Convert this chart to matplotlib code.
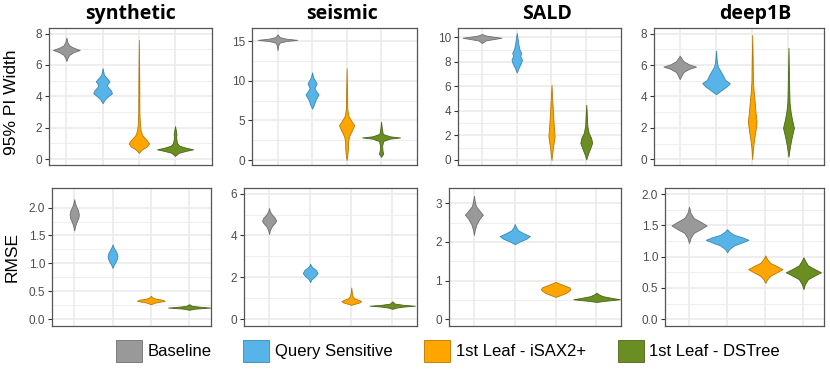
import matplotlib
matplotlib.use("Agg")
import matplotlib.pyplot as plt
from matplotlib.patches import Patch

plt.rcParams['font.family'] = ['Liberation Sans', 'DejaVu Sans']

datasets = ["synthetic", "seismic", "SALD", "deep1B"]
methods = ["Baseline", "Query Sensitive", "1st Leaf - iSAX2+", "1st Leaf - DSTree"]
fill_colors = ['#999999', '#56B4E9', '#FFA500', '#6B8E23']
edge_colors = ['#6e6e6e', '#3a86b3', '#b77700', '#4a6517']

# violin outlines: (y levels, half width in category units)
pi_synthetic = [
    ([6.26, 6.45, 6.65, 6.82, 6.96, 7.1, 7.25, 7.45, 7.75], [0, 0.03, 0.08, 0.2, 0.37, 0.2, 0.08, 0.03, 0]),
    ([3.56, 3.8, 4.0, 4.2, 4.4, 4.6, 4.75, 4.95, 5.15, 5.35, 5.55, 5.79],
     [0, 0.06, 0.15, 0.26, 0.22, 0.14, 0.12, 0.19, 0.12, 0.04, 0.02, 0]),
    ([0.4, 0.6, 0.8, 1.0, 1.2, 1.5, 1.8, 2.2, 3.0, 5.0, 7.6],
     [0, 0.08, 0.22, 0.28, 0.22, 0.1, 0.05, 0.03, 0.015, 0.012, 0]),
    ([0.2, 0.4, 0.52, 0.62, 0.72, 0.85, 1.0, 1.2, 1.45, 1.6, 2.1],
     [0, 0.1, 0.3, 0.5, 0.3, 0.12, 0.06, 0.04, 0.03, 0.04, 0]),
]
pi_seismic = [
    ([13.9, 14.5, 14.85, 15.05, 15.2, 15.35, 15.55, 15.9], [0, 0.02, 0.06, 0.25, 0.57, 0.25, 0.06, 0]),
    ([6.5, 7.0, 7.6, 8.0, 8.3, 8.7, 9.1, 9.4, 9.7, 10.1, 10.5, 11.1],
     [0, 0.05, 0.1, 0.15, 0.19, 0.12, 0.07, 0.1, 0.13, 0.08, 0.03, 0]),
    ([0, 0.5, 1.5, 2.2, 3.0, 3.7, 4.4, 5.0, 5.6, 6.5, 8.0, 11.6],
     [0, 0.02, 0.04, 0.04, 0.07, 0.15, 0.22, 0.13, 0.05, 0.02, 0.015, 0]),
    ([0.4, 0.8, 1.2, 1.8, 2.4, 2.7, 2.85, 3.0, 3.3, 4.0, 4.85],
     [0, 0.06, 0.04, 0.03, 0.06, 0.25, 0.55, 0.25, 0.05, 0.02, 0]),
]
pi_sald = [
    ([9.54, 9.75, 9.9, 9.97, 10.05, 10.15, 10.28], [0, 0.1, 0.4, 0.56, 0.35, 0.12, 0]),
    ([7.14, 7.5, 7.9, 8.2, 8.5, 8.75, 9.0, 9.4, 9.8, 10.36],
     [0, 0.05, 0.12, 0.15, 0.1, 0.13, 0.08, 0.05, 0.03, 0]),
    ([0, 0.5, 1.2, 1.9, 2.6, 3.5, 4.5, 5.3, 6.13], [0, 0.02, 0.05, 0.09, 0.07, 0.05, 0.03, 0.015, 0]),
    ([0.05, 0.5, 1.0, 1.4, 1.8, 2.2, 2.8, 3.5, 4.5], [0, 0.05, 0.12, 0.17, 0.14, 0.07, 0.03, 0.02, 0]),
]
pi_deep1b = [
    ([5.1, 5.3, 5.55, 5.75, 5.9, 6.05, 6.25, 6.45, 6.6], [0, 0.04, 0.1, 0.25, 0.45, 0.25, 0.1, 0.04, 0]),
    ([4.14, 4.4, 4.65, 4.85, 5.05, 5.3, 5.6, 5.9, 6.3, 6.92],
     [0, 0.15, 0.3, 0.38, 0.25, 0.2, 0.13, 0.05, 0.02, 0]),
    ([0, 0.7, 1.4, 2.0, 2.4, 3.0, 3.6, 4.3, 5.0, 6.0, 7.92],
     [0, 0.02, 0.06, 0.1, 0.12, 0.09, 0.07, 0.04, 0.02, 0.015, 0]),
    ([0.16, 0.8, 1.4, 2.0, 2.5, 3.0, 3.6, 4.5, 5.5, 7.1],
     [0, 0.04, 0.09, 0.15, 0.1, 0.06, 0.03, 0.02, 0.012, 0]),
]

rmse_synthetic = [
    ([1.59, 1.66, 1.74, 1.82, 1.88, 1.95, 2.02, 2.08, 2.15], [0, 0.02, 0.06, 0.11, 0.12, 0.1, 0.05, 0.02, 0]),
    ([0.92, 0.97, 1.03, 1.09, 1.14, 1.2, 1.26, 1.3, 1.34], [0, 0.03, 0.08, 0.12, 0.13, 0.1, 0.05, 0.02, 0]),
    ([0.27, 0.3, 0.32, 0.33, 0.35, 0.37, 0.39, 0.42], [0, 0.12, 0.28, 0.36, 0.3, 0.12, 0.04, 0]),
    ([0.17, 0.19, 0.2, 0.21, 0.22, 0.24, 0.27], [0, 0.15, 0.35, 0.55, 0.35, 0.08, 0]),
]
rmse_seismic = [
    ([4.07, 4.25, 4.45, 4.6, 4.7, 4.85, 5.0, 5.15, 5.31], [0, 0.02, 0.07, 0.14, 0.17, 0.14, 0.07, 0.02, 0]),
    ([1.77, 1.9, 2.05, 2.2, 2.35, 2.45, 2.55, 2.65], [0, 0.03, 0.12, 0.18, 0.14, 0.07, 0.02, 0]),
    ([0.68, 0.73, 0.8, 0.86, 0.92, 1.0, 1.1, 1.25, 1.51], [0, 0.08, 0.2, 0.24, 0.18, 0.07, 0.03, 0.015, 0]),
    ([0.49, 0.55, 0.6, 0.64, 0.68, 0.74, 0.85], [0, 0.1, 0.28, 0.55, 0.28, 0.06, 0]),
]
rmse_sald = [
    ([2.18, 2.3, 2.45, 2.6, 2.7, 2.8, 2.92, 3.05, 3.19], [0, 0.02, 0.06, 0.14, 0.22, 0.14, 0.05, 0.02, 0]),
    ([1.94, 2.0, 2.08, 2.15, 2.22, 2.3, 2.38, 2.46], [0, 0.1, 0.28, 0.37, 0.22, 0.08, 0.03, 0]),
    ([0.58, 0.62, 0.68, 0.74, 0.78, 0.83, 0.88, 0.93, 0.97], [0, 0.1, 0.25, 0.33, 0.36, 0.33, 0.2, 0.08, 0]),
    ([0.45, 0.48, 0.5, 0.52, 0.55, 0.6, 0.65, 0.69], [0, 0.2, 0.4, 0.57, 0.4, 0.15, 0.05, 0]),
]
rmse_deep1b = [
    ([1.22, 1.3, 1.38, 1.44, 1.5, 1.56, 1.62, 1.7, 1.8], [0, 0.04, 0.12, 0.3, 0.46, 0.3, 0.12, 0.04, 0]),
    ([1.07, 1.12, 1.18, 1.23, 1.27, 1.31, 1.35, 1.4, 1.44], [0, 0.05, 0.18, 0.4, 0.56, 0.4, 0.18, 0.06, 0]),
    ([0.58, 0.63, 0.69, 0.75, 0.8, 0.85, 0.9, 0.96, 1.02], [0, 0.04, 0.12, 0.3, 0.45, 0.3, 0.13, 0.05, 0]),
    ([0.48, 0.56, 0.64, 0.7, 0.75, 0.8, 0.86, 0.93, 0.99], [0, 0.04, 0.12, 0.3, 0.46, 0.3, 0.12, 0.05, 0]),
]

pi_ticks = [[0, 2, 4, 6, 8], [0, 5, 10, 15], [0, 2, 4, 6, 8, 10], [0, 2, 4, 6, 8]]
rmse_ticks = [[0, 0.5, 1.0, 1.5, 2.0], [0, 2, 4, 6], [0, 1, 2, 3], [0, 0.5, 1.0, 1.5, 2.0]]
rmse_labels = [["0.0", "0.5", "1.0", "1.5", "2.0"], ["0", "2", "4", "6"],
               ["0", "1", "2", "3"], ["0.0", "0.5", "1.0", "1.5", "2.0"]]

W, H = 830, 371
fig = plt.figure(figsize=(W / 100, H / 100), dpi=100)

# panel boxes in pixels: (left, right), rows share top/bottom
row_px = [(28, 165), (188, 326)]
cols_px = [[(49, 212), (252, 417), (458, 621), (654, 824)],
           [(52, 211), (244, 417), (449, 621), (665, 824)]]
xlims = [[(0.52, 5.02), (0.26, 5.04), (0.31, 5.0), (0.29, 4.98)],
         [(0.42, 4.57), (0.39, 4.6), (0.39, 4.6), (0.37, 4.54)]]
ylims = [[(-0.38, 8.36), (-0.63, 16.7), (-0.41, 10.77), (-0.37, 8.36)],
         [(-0.12, 2.35), (-0.33, 6.27), (-0.17, 3.39), (-0.11, 2.1)]]

rows = [([pi_synthetic, pi_seismic, pi_sald, pi_deep1b], pi_ticks, None),
        ([rmse_synthetic, rmse_seismic, rmse_sald, rmse_deep1b], rmse_ticks, rmse_labels)]

for r, (panels, ticks, labels) in enumerate(rows):
    top, bot = row_px[r]
    for c, violins in enumerate(panels):
        l, rr = cols_px[r][c]
        ax = fig.add_axes([l / W, 1 - bot / H, (rr - l) / W, (bot - top) / H])
        ax.set_facecolor('white')
        for i, (ys, ws) in enumerate(violins):
            x = i + 1
            ax.fill_betweenx(ys, [x - w for w in ws], [x + w for w in ws],
                             facecolor=fill_colors[i], edgecolor=edge_colors[i],
                             linewidth=0.6, zorder=3)
        ax.set_xlim(*xlims[r][c])
        ax.set_ylim(*ylims[r][c])
        ax.set_xticks([1, 2, 3, 4])
        ax.set_xticklabels([])
        t = ticks[c]
        ax.set_yticks(t)
        if labels is not None:
            ax.set_yticklabels(labels[c])
        ax.set_yticks([(a + b) / 2 for a, b in zip(t[:-1], t[1:])], minor=True)
        ax.tick_params(axis='x', length=0)
        ax.tick_params(axis='y', which='major', length=3, width=0.8, color='#333333',
                       labelcolor='#4D4D4D', labelsize=8.5, pad=2)
        ax.tick_params(axis='y', which='minor', length=0)
        ax.grid(True, which='major', color='#EBEBEB', linewidth=1.2)
        ax.grid(True, which='minor', axis='y', color='#EBEBEB', linewidth=0.6)
        ax.set_axisbelow(True)
        for s in ax.spines.values():
            s.set_color('#555555')
            s.set_linewidth(0.9)
        if r == 0:
            fig.text([130, 342, 547, 755][c] / W, 1 - 14 / H, datasets[c],
                     ha='center', va='center', fontsize=14, fontweight='bold',
                     family=['Open Sans', 'DejaVu Sans'])

fig.text(12 / W, 1 - 102 / H, "95% PI Width", rotation=90, ha='center', va='center', fontsize=12.5)
fig.text(12 / W, 1 - 257 / H, "RMSE", rotation=90, ha='center', va='center', fontsize=12.5)

handles = [Patch(facecolor=fill_colors[i], edgecolor=edge_colors[i], linewidth=0.6, label=methods[i])
           for i in range(4)]
fig.legend(handles=handles, loc='center', bbox_to_anchor=(448 / W, 1 - 351 / H), ncol=4,
           frameon=False, fontsize=12, handlelength=1.55, handleheight=1.6,
           handletextpad=0.35, columnspacing=1.9, borderpad=0)

fig.savefig("out.png", dpi=100)
